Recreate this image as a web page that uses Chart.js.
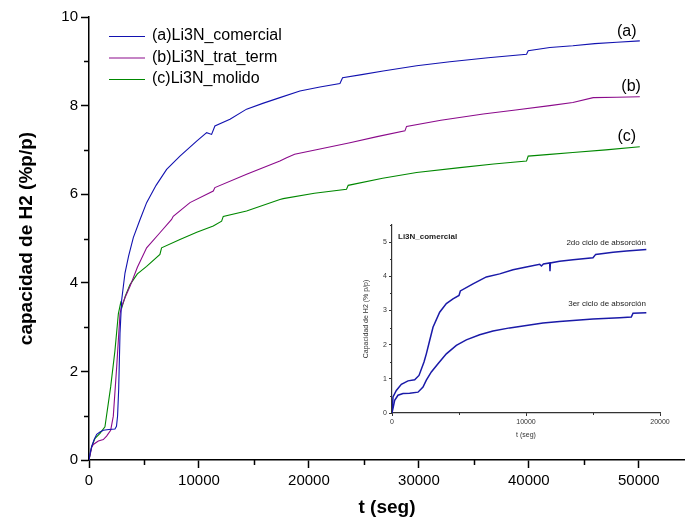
<!DOCTYPE html>
<html>
<head>
<meta charset="utf-8">
<script src="https://cdn.jsdelivr.net/npm/chart.js@4.4.1/dist/chart.umd.min.js"></script>
<style>
  body { margin: 0; background: #fff; }
  #wrap { position: relative; width: 685px; height: 521px; }
  #mainChart { position: absolute; left: 0; top: 0; }
  #insetChart { position: absolute; left: 355px; top: 215px; }
</style>
</head>
<body>
<div id="wrap">
  <canvas id="mainChart" width="685" height="521"></canvas>
  <canvas id="insetChart" width="330" height="235"></canvas>
</div>
<script>
const FONT = "'Liberation Sans', Arial, sans-serif";

/* absorption curves, t in seconds, capacity in %p/p */
const seriesNames = ['(a)Li3N_comercial', '(b)Li3N_trat_term', '(c)Li3N_molido'];
const seriesTags = ['(a)', '(b)', '(c)'];
const seriesColors = ['#1212b0', '#8b0a8b', '#008800'];

const tComercial = [0, 120, 240, 450, 700, 1000, 1300, 1800, 2360, 2500, 2600, 2700, 2820, 2970, 3273, 3600, 4030, 4600, 5240, 6100, 7060, 8270, 9790, 10700, 11150, 11450, 12820, 14330, 15800, 17360, 19180, 21000, 22820, 23060, 24800, 26750, 29800, 32820, 36300, 39790, 39940, 41910, 44000, 46000, 48000, 50090];
const capComercial = [0, 0.18, 0.3, 0.45, 0.58, 0.63, 0.67, 0.69, 0.7, 0.76, 1.0, 1.6, 2.86, 3.61, 4.22, 4.6, 5.02, 5.4, 5.81, 6.2, 6.56, 6.86, 7.2, 7.39, 7.35, 7.54, 7.69, 7.92, 8.05, 8.18, 8.33, 8.42, 8.5, 8.63, 8.7, 8.78, 8.9, 8.99, 9.08, 9.16, 9.24, 9.31, 9.35, 9.4, 9.43, 9.46];

const tTratTerm = [0, 240, 390, 850, 1300, 1600, 1970, 2210, 2520, 2820, 2950, 3300, 3730, 4400, 5240, 6450, 7510, 7660, 9180, 11300, 11450, 14330, 17360, 17970, 18700, 21000, 23730, 26200, 28730, 28880, 32000, 35850, 38800, 41910, 44000, 45850, 48000, 50090];
const capTratTerm = [0, 0.28, 0.35, 0.43, 0.46, 0.54, 0.67, 0.99, 2.11, 3.3, 3.45, 3.68, 3.92, 4.35, 4.79, 5.13, 5.43, 5.5, 5.81, 6.07, 6.15, 6.45, 6.75, 6.82, 6.9, 7.02, 7.16, 7.3, 7.43, 7.53, 7.67, 7.81, 7.9, 8.0, 8.07, 8.18, 8.19, 8.2];

const tMolido = [0, 240, 550, 1000, 1450, 1970, 2360, 2670, 2880, 3000, 3300, 3730, 4400, 5240, 6450, 6600, 8270, 9800, 11300, 12060, 12210, 14330, 17360, 17660, 20500, 23420, 23570, 26700, 29790, 33730, 36800, 39790, 39940, 41910, 44000, 47000, 50090];
const capMolido = [0, 0.3, 0.49, 0.6, 0.75, 1.65, 2.47, 3.3, 3.55, 3.45, 3.7, 3.96, 4.2, 4.37, 4.64, 4.79, 4.98, 5.14, 5.28, 5.39, 5.5, 5.62, 5.88, 5.9, 6.02, 6.11, 6.2, 6.36, 6.49, 6.6, 6.68, 6.75, 6.86, 6.9, 6.94, 7.0, 7.07];

/* inset: second and third absorption cycles of the commercial sample */
const cycleNames = ['2do ciclo de absorción', '3er ciclo de absorción'];
const tCiclo2 = [0, 75, 323, 697, 1194, 1692, 2015, 2388, 2562, 2811, 3060, 3557, 4055, 4552, 5000, 5100, 6045, 7040, 8035, 9030, 10025, 11020, 11150, 11300, 11766, 11790, 11820, 12512, 13507, 15000, 15200, 16500, 17500, 18980];
const capCiclo2 = [0, 0.47, 0.66, 0.84, 0.94, 0.97, 1.1, 1.49, 1.73, 2.12, 2.51, 2.95, 3.2, 3.34, 3.44, 3.57, 3.78, 3.98, 4.07, 4.19, 4.27, 4.35, 4.3, 4.36, 4.39, 4.15, 4.39, 4.44, 4.48, 4.54, 4.64, 4.7, 4.74, 4.78];
const tCiclo3 = [0, 199, 448, 821, 1318, 1940, 2313, 2562, 2935, 3433, 4055, 4801, 5547, 6542, 7537, 8781, 10025, 11269, 12512, 15000, 16990, 17860, 17985, 18980];
const capCiclo3 = [0, 0.37, 0.52, 0.57, 0.58, 0.61, 0.76, 0.96, 1.2, 1.44, 1.73, 1.98, 2.14, 2.29, 2.4, 2.49, 2.56, 2.63, 2.68, 2.75, 2.79, 2.81, 2.92, 2.93];

const mainTicksX = { max: 54200, major: 10000, minor: 5000 };
const mainTicksY = { max: 10, major: 2, minor: 1 };
const insetTicksX = { max: 20000, major: 10000, minor: 5000 };
const insetTicksY = { max: 5.5, major: 1, minor: 0.5 };

function points(ts, vs) {
  return ts.map((t, i) => ({ x: t, y: vs[i] }));
}

// labelled ticks at every multiple of step up to max
function majorTicks(cfg) {
  return scale => {
    const ticks = [];
    for (let v = 0; v <= cfg.max + 1e-9; v += cfg.major) ticks.push({ value: Math.round(v * 1000) / 1000 });
    scale.ticks = ticks;
  };
}

// minor tick marks between the labelled ones
const minorTicks = {
  id: 'minorTicks',
  afterDraw(chart, args, opts) {
    const ctx = chart.ctx;
    const { x, y } = chart.scales;
    const area = chart.chartArea;
    ctx.save();
    ctx.strokeStyle = opts.color;
    ctx.lineWidth = opts.width;
    ctx.beginPath();
    for (let v = opts.x.minor; v <= opts.x.max; v += opts.x.minor) {
      if (Math.abs(v / opts.x.major - Math.round(v / opts.x.major)) < 1e-6) continue;
      const px = Math.round(x.getPixelForValue(v)) + 0.5;
      ctx.moveTo(px, area.bottom);
      ctx.lineTo(px, area.bottom + opts.len);
    }
    for (let v = opts.y.minor; v <= opts.y.max + 1e-9; v += opts.y.minor) {
      if (Math.abs(v / opts.y.major - Math.round(v / opts.y.major)) < 1e-6) continue;
      const py = Math.round(y.getPixelForValue(v)) + 0.5;
      ctx.moveTo(area.left, py);
      ctx.lineTo(area.left - opts.len, py);
    }
    ctx.stroke();
    ctx.restore();
  }
};

// legend in the upper left and curve tags at the right end
const mainText = {
  id: 'mainText',
  afterDraw(chart) {
    const ctx = chart.ctx;
    const { x, y } = chart.scales;
    ctx.save();
    ctx.font = '16px ' + FONT;
    ctx.textBaseline = 'middle';
    seriesNames.forEach((name, i) => {
      const ly = 36 + i * 21.5;
      ctx.strokeStyle = seriesColors[i];
      ctx.lineWidth = 1;
      ctx.beginPath();
      ctx.moveTo(109, ly + 0.5);
      ctx.lineTo(145, ly + 0.5);
      ctx.stroke();
      ctx.fillStyle = '#000';
      ctx.textAlign = 'left';
      ctx.fillText(name, 152, ly);
    });
    const tagPos = [[48900, 9.68], [49300, 8.42], [48900, 7.31]];
    ctx.textAlign = 'center';
    seriesTags.forEach((tag, i) => {
      ctx.fillText(tag, x.getPixelForValue(tagPos[i][0]), y.getPixelForValue(tagPos[i][1]));
    });
    ctx.restore();
  }
};

const insetText = {
  id: 'insetText',
  afterDraw(chart) {
    const ctx = chart.ctx;
    const { x, y } = chart.scales;
    const area = chart.chartArea;
    ctx.save();
    ctx.fillStyle = '#222';
    ctx.textBaseline = 'middle';
    ctx.font = 'bold 8px ' + FONT;
    ctx.textAlign = 'left';
    ctx.fillText('Li3N_comercial', area.left + 6, area.top + 12);
    ctx.font = '8px ' + FONT;
    ctx.textAlign = 'right';
    ctx.fillText(cycleNames[0], x.getPixelForValue(18955), y.getPixelForValue(4.97));
    ctx.fillText(cycleNames[1], x.getPixelForValue(18955), y.getPixelForValue(3.19));
    ctx.restore();
  }
};

new Chart(document.getElementById('mainChart'), {
  type: 'line',
  data: {
    datasets: [
      { data: points(tComercial, capComercial), borderColor: seriesColors[0] },
      { data: points(tTratTerm, capTratTerm), borderColor: seriesColors[1] },
      { data: points(tMolido, capMolido), borderColor: seriesColors[2] }
    ]
  },
  options: {
    responsive: false,
    animation: false,
    layout: { padding: { top: 17, right: 0, left: 0, bottom: 0 } },
    elements: { point: { radius: 0 }, line: { borderWidth: 1.1, tension: 0 } },
    plugins: {
      legend: { display: false },
      tooltip: { enabled: false },
      minorTicks: { x: mainTicksX, y: mainTicksY, len: 5, width: 1.5, color: '#000' }
    },
    scales: {
      x: {
        type: 'linear',
        min: 0,
        max: mainTicksX.max,
        afterBuildTicks: majorTicks(mainTicksX),
        afterFit: s => { s.height = 61; },
        ticks: { autoSkip: false, color: '#000', font: { family: FONT, size: 15 }, padding: 4, maxRotation: 0, callback: v => String(v) },
        grid: { drawOnChartArea: false, tickLength: 8, tickWidth: 1.5, tickColor: '#000' },
        border: { color: '#000', width: 1.5 },
        title: { display: true, text: 't (seg)', color: '#000', font: { family: FONT, size: 19, weight: 'bold' }, padding: { top: 0, bottom: 2 } }
      },
      y: {
        min: 0,
        max: mainTicksY.max,
        afterBuildTicks: majorTicks(mainTicksY),
        afterFit: s => { s.width = 89; },
        ticks: { autoSkip: false, color: '#000', font: { family: FONT, size: 15 }, padding: 3 },
        grid: { drawOnChartArea: false, tickLength: 8, tickWidth: 1.5, tickColor: '#000' },
        border: { color: '#000', width: 1.5 },
        title: { display: true, text: 'capacidad de H2 (%p/p)', color: '#000', font: { family: FONT, size: 19, weight: 'bold' }, padding: { top: 15, bottom: 0 } }
      }
    }
  },
  plugins: [minorTicks, mainText]
});

new Chart(document.getElementById('insetChart'), {
  type: 'line',
  data: {
    datasets: [
      { data: points(tCiclo2, capCiclo2), borderColor: '#1a1aa8' },
      { data: points(tCiclo3, capCiclo3), borderColor: '#1a1aa8' }
    ]
  },
  options: {
    responsive: false,
    animation: false,
    layout: { padding: { top: 10, right: 25, left: 0, bottom: 0 } },
    elements: { point: { radius: 0 }, line: { borderWidth: 1.5, tension: 0 } },
    plugins: {
      legend: { display: false },
      tooltip: { enabled: false },
      minorTicks: { x: insetTicksX, y: insetTicksY, len: 2, width: 1, color: '#333' }
    },
    scales: {
      x: {
        type: 'linear',
        min: 0,
        max: insetTicksX.max,
        afterBuildTicks: majorTicks(insetTicksX),
        afterFit: s => { s.height = 37; },
        ticks: { autoSkip: false, color: '#333', font: { family: FONT, size: 7 }, padding: 2, maxRotation: 0, callback: v => String(v) },
        grid: { drawOnChartArea: false, tickLength: 3, tickWidth: 1, tickColor: '#333' },
        border: { color: '#333', width: 1.2 },
        title: { display: true, text: 't (seg)', color: '#333', font: { family: FONT, size: 7 }, padding: { top: 0, bottom: 11 } }
      },
      y: {
        min: 0,
        max: insetTicksY.max,
        afterBuildTicks: majorTicks(insetTicksY),
        afterFit: s => { s.width = 37; },
        ticks: { autoSkip: false, color: '#333', font: { family: FONT, size: 7 }, padding: 2 },
        grid: { drawOnChartArea: false, tickLength: 3, tickWidth: 1, tickColor: '#333' },
        border: { color: '#333', width: 1.2 },
        title: { display: true, text: 'Capacidad de H2 (% p/p)', color: '#333', font: { family: FONT, size: 7 }, padding: { top: 7, bottom: 0 } }
      }
    }
  },
  plugins: [minorTicks, insetText]
});
</script>
</body>
</html>
